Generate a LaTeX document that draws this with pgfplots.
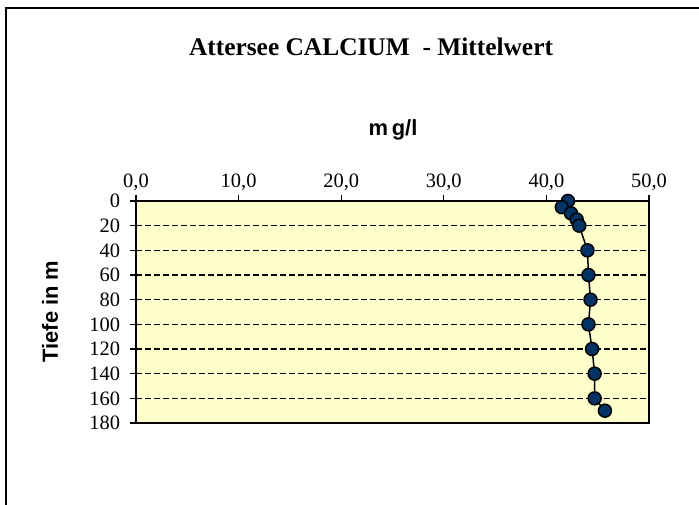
\documentclass[border=0pt]{standalone}
\usepackage{fontspec}
\setmainfont{Liberation Serif}
\newfontfamily\arialfont{Liberation Sans}
\usepackage{pgfplots}
\pgfplotsset{compat=1.18}
\definecolor{plotbg}{HTML}{FFFFCC}
\definecolor{marknavy}{HTML}{003366}

\begin{document}
\begin{tikzpicture}[x=1bp,y=1bp]
\path[use as bounding box] (0,0) rectangle (699,-505);
% outer frame (only top and left visible)
\draw[line width=2bp] (699,-8) -- (6,-8) -- (6,-505);
\node[font=\fontsize{25.5}{30}\selectfont\bfseries, anchor=base] at (371,-56) {Attersee CALCIUM\ \ - Mittelwert};
\node[font=\arialfont\bfseries\fontsize{22}{26}\selectfont, anchor=base] at (393,-136) {m\,g/l};
\node[font=\arialfont\bfseries\fontsize{22}{26}\selectfont, rotate=90] at (50,-311.5) {Tiefe in m};
\begin{axis}[
  at={(136bp,-423bp)}, anchor=south west,
  scale only axis, width=513bp, height=222bp,
  xmin=0, xmax=50, ymin=0, ymax=180, y dir=reverse,
  xtick={0,10,...,50}, ytick={0,20,...,180},
  xtick pos=right, xticklabel pos=right,
  ytick pos=left,
  tick align=outside,
  major tick length=6.5bp,
  tick style={black, line width=1.2bp},
  axis line style={black, line width=1.6bp},
  axis background/.style={fill=plotbg},
  ymajorgrids,
  grid style={black, line width=1.2bp, dash pattern=on 6bp off 3bp},
  tick label style={font=\fontsize{20.5}{24}\selectfont},
  /pgf/number format/assume math mode=true,
  xticklabel style={/pgf/number format/.cd, fixed, fixed zerofill, precision=1, use comma},
  yticklabel style={xshift=-6bp},
  clip=false,
]
\addplot[black, line width=1.5bp, mark=*, mark size=6.5bp,
  mark options={draw=black, fill=marknavy, line width=1.5bp}] coordinates {
(42.1,0) (41.5,5) (42.4,10) (42.95,15) (43.2,20) (44.0,40) (44.1,60)
(44.3,80) (44.1,100) (44.45,120) (44.7,140) (44.7,160) (45.7,170)
};
\end{axis}
\end{tikzpicture}
\end{document}
